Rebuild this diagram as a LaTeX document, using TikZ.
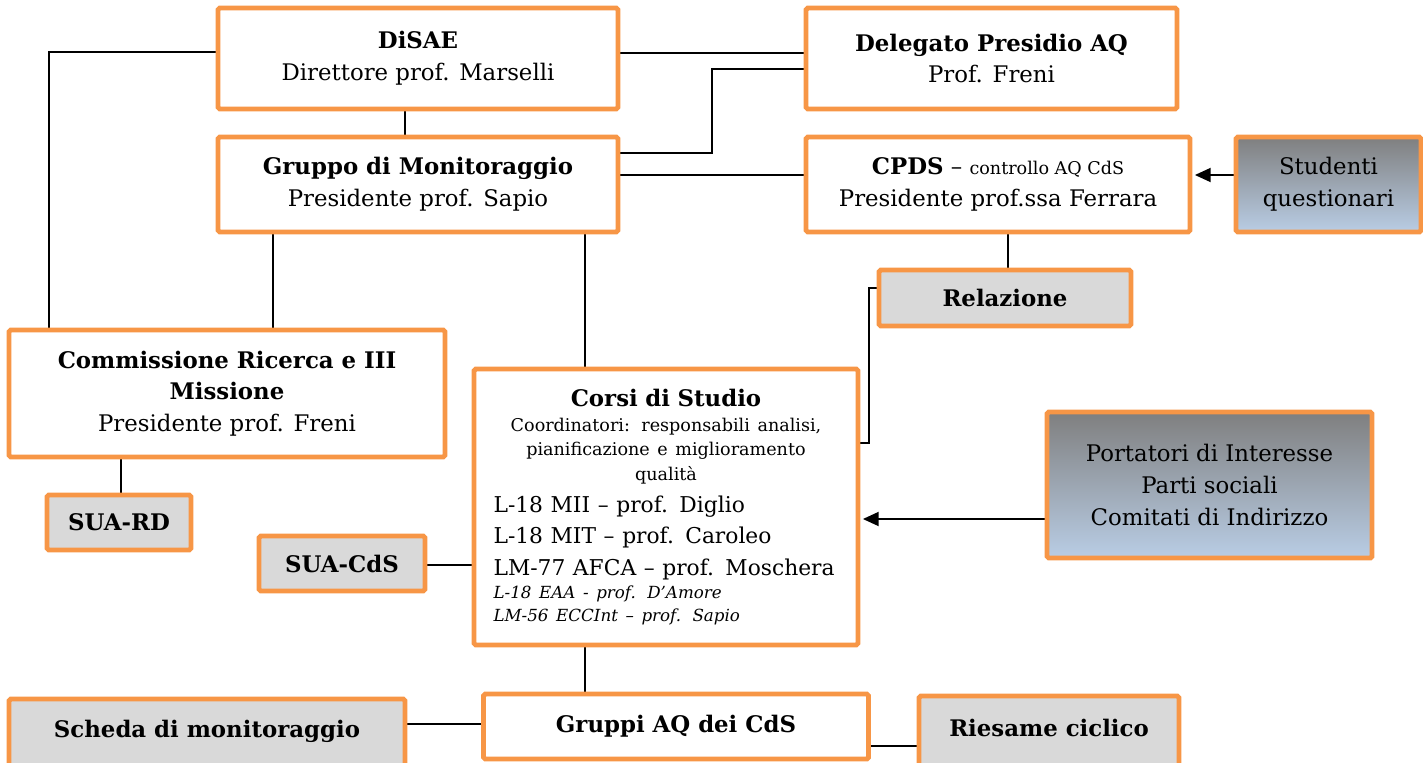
\documentclass[tikz,border=0pt]{standalone}
\usepackage{fontspec}
\setmainfont{DejaVu Serif}
\usetikzlibrary{arrows.meta,backgrounds}

\definecolor{aqorange}{HTML}{F79646}
\definecolor{aqgray}{HTML}{D9D9D9}
\definecolor{aqtop}{HTML}{7F7F7F}
\definecolor{aqbottom}{HTML}{B9CDE5}

\tikzstyle{unit} = [draw=aqorange, line width=2.8pt, rounded corners=1pt, fill=white, align=center, inner sep=2pt, font=\fontsize{13}{18}\selectfont]
\tikzstyle{output} = [unit, fill=aqgray, font=\fontsize{13}{18}\selectfont\bfseries]
\tikzstyle{source} = [unit, top color=aqtop, bottom color=aqbottom]
\tikzstyle{link} = [line width=1pt]
\tikzstyle{feed} = [link, -{Triangle[length=9pt,width=8pt]}, shorten >=1.4pt]
\tikzset{sz/.style 2 args={minimum width=#1*0.02cm, minimum height=#2*0.02cm}}

\begin{document}
\begin{tikzpicture}[x=0.02cm, y=-0.02cm]
	\useasboundingbox (0,0) rectangle (1423,762);

	\node[unit, sz={400}{101}] (disae) at (418,58.5) {\textbf{DiSAE}\\ Direttore prof. Marselli};
	\node[unit, sz={371}{101}] (deleg) at (991.5,58.5) {\textbf{Delegato Presidio AQ}\\ Prof. Freni};
	\node[unit, sz={400}{95}] (gruppo) at (418,184.5) {\textbf{Gruppo di Monitoraggio}\\ Presidente prof. Sapio};
	\node[unit, sz={384}{95}] (cpds) at (998,184.5) {\textbf{CPDS} – {\fontsize{10}{18}\selectfont controllo AQ CdS}\\ Presidente prof.ssa Ferrara};
	\node[source, sz={185}{95}] (stud) at (1328.5,184.5) {Studenti\\ questionari};
	\node[output, sz={252}{56}] (relaz) at (1005,298) {Relazione};

	\node[unit, sz={436}{127}] (comm) at (227,393.5) {\textbf{Commissione Ricerca e III}\\ \textbf{Missione}\\ Presidente prof. Freni};
	\node[output, sz={144}{55}] (suard) at (119,522.5) {SUA-RD};
	\node[output, sz={166}{55}] (suacds) at (342,563.5) {SUA-CdS};
	\node[unit, sz={384}{276}, text width=6.9cm, align=left] (corsi) at (666,507) {%
		\centering\textbf{Corsi di Studio}\par
		{\fontsize{10}{14}\selectfont Coordinatori: responsabili analisi,\\ pianificazione e miglioramento\\ qualità\par}
		\raggedright{\fontsize{12.4}{18}\selectfont L-18 MII – prof. Diglio\\ L-18 MIT – prof. Caroleo\\ LM-77 AFCA – prof. Moschera\par}
		{\fontsize{9.5}{13}\selectfont\itshape L-18 EAA - prof. D’Amore\\ LM-56 ECCInt – prof. Sapio\par}};
	\node[source, sz={325}{146}] (port) at (1209.5,485) {Portatori di Interesse\\ Parti sociali\\ Comitati di Indirizzo};

	\node[output, sz={396}{76}, text height=9pt, text depth=9pt] (scheda) at (207,737) {Scheda di monitoraggio};
	\node[output, sz={385}{65}, fill=white] (gruppiaq) at (676,726.5) {Gruppi AQ dei CdS};
	\node[output, sz={260}{80}, text height=9pt, text depth=9pt] (riesame) at (1049,736) {Riesame ciclico};

	\begin{scope}[on background layer]
	\draw[link] (disae.east |- 0,53) -- (deleg.west |- 0,53);
	\draw[link] (gruppo.east |- 0,153) -- (712,153) |- (deleg.west |- 0,69);
	\draw[link] (gruppo.east |- 0,175) -- (cpds.west |- 0,175);
	\draw[link] (disae.south -| 405,0) -- (gruppo.north -| 405,0);
	\draw[link] (disae.west |- 0,52) -| (comm.north -| 49,0);
	\draw[link] (gruppo.south -| 273,0) -- (comm.north -| 273,0);
	\draw[link] (gruppo.south -| 585,0) -- (corsi.north -| 585,0);
	\draw[link] (cpds.south -| 1008,0) -- (relaz.north -| 1008,0);
	\draw[link] (relaz.west |- 0,288) -- (869,288) |- (corsi.east |- 0,443);
	\draw[feed] (stud.west |- 0,175) -- (cpds.east |- 0,175);
	\draw[feed] (port.west |- 0,519) -- (corsi.east |- 0,519);
	\draw[link] (comm.south -| 121,0) -- (suard.north -| 121,0);
	\draw[link] (suacds.east |- 0,565) -- (corsi.west |- 0,565);
	\draw[link] (corsi.south -| 585,0) -- (gruppiaq.north -| 585,0);
	\draw[link] (scheda.east |- 0,724) -- (gruppiaq.west |- 0,724);
	\draw[link] (gruppiaq.east |- 0,746) -- (riesame.west |- 0,746);
	\end{scope}
\end{tikzpicture}
\end{document}
